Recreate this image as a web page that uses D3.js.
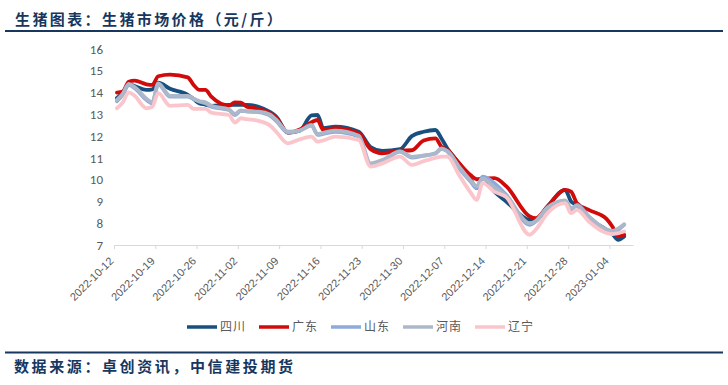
<!DOCTYPE html>
<html>
<head>
<meta charset="utf-8">
<script src="https://cdn.jsdelivr.net/npm/d3@7"></script>
<style>
  body { margin: 0; background: #fff; }
  svg { display: block; font-family: "Noto Sans CJK SC", "Noto Sans", sans-serif; }
</style>
</head>
<body>
<div id="chart"></div>
<script>
// Dates of the observations
var dates = ["2022-10-12","2022-10-13","2022-10-14","2022-10-15","2022-10-17","2022-10-18","2022-10-19","2022-10-21",
  "2022-10-24","2022-10-25","2022-10-26","2022-10-27","2022-10-28","2022-10-31","2022-11-01","2022-11-02","2022-11-03",
  "2022-11-05","2022-11-07","2022-11-08","2022-11-10","2022-11-12","2022-11-14","2022-11-15","2022-11-16","2022-11-18",
  "2022-11-22","2022-11-24","2022-11-26","2022-11-29","2022-12-01","2022-12-03","2022-12-05","2022-12-06","2022-12-07",
  "2022-12-09","2022-12-11","2022-12-12","2022-12-13","2022-12-15","2022-12-17","2022-12-21","2022-12-22","2022-12-24",
  "2022-12-27","2022-12-28","2022-12-29","2022-12-31","2023-01-03","2023-01-04","2023-01-05","2023-01-06"];

// Price series (yuan / jin)
var sichuan = [13.75,14.0,14.38,14.3,14.12,14.15,14.45,14.17,13.9,13.7,13.5,13.45,13.39,13.43,13.43,13.43,13.43,
  13.35,13.1,12.9,12.16,12.25,12.95,12.97,12.36,12.44,12.2,11.5,11.32,11.4,12.0,12.2,12.28,11.9,11.44,
  10.76,10.0,9.61,10.1,9.45,9.0,8.16,8.16,8.77,9.53,9.0,8.84,8.23,7.7,7.5,7.24,7.39];
var guangdong = [14.0,14.05,14.5,14.55,14.38,14.35,14.75,14.82,14.7,14.35,14.12,14.12,13.81,13.4,13.55,13.54,13.35,
  13.25,13.05,12.85,12.16,12.3,12.64,12.74,12.28,12.36,12.13,11.4,11.21,11.33,11.35,11.8,11.9,11.52,11.37,
  10.76,10.2,10.02,10.05,10.07,9.7,8.31,8.23,8.77,9.53,9.45,8.92,8.61,8.2,7.85,7.4,7.47];
var shandong = [13.6,13.9,14.35,14.2,13.66,13.51,14.38,13.81,13.81,13.7,13.58,13.51,13.35,13.2,12.97,13.16,13.14,
  13.1,12.93,12.7,12.16,12.25,12.51,12.06,12.1,12.2,11.98,10.68,10.83,11.29,11.01,11.1,11.21,11.44,11.3,
  10.53,9.9,9.61,10.14,9.84,9.3,7.93,8.08,8.69,9.0,8.61,8.84,8.31,7.7,7.62,7.7,7.93];
var henan = [13.66,13.95,14.4,14.25,13.72,13.55,14.42,13.85,13.85,13.72,13.6,13.55,13.4,13.22,13.02,13.18,13.14,
  13.12,12.98,12.75,12.2,12.25,12.48,12.1,12.15,12.25,12.02,10.75,10.9,11.3,11.05,11.1,11.2,11.4,11.32,
  10.6,9.95,9.7,10.05,9.65,9.25,8.0,8.1,8.72,9.05,8.7,8.8,8.28,7.72,7.65,7.75,7.95];
var liaoning = [13.28,13.55,14.01,13.85,13.28,13.35,13.97,13.39,13.43,13.25,13.25,13.25,13.08,12.97,12.62,12.82,12.78,
  12.7,12.48,12.2,11.67,11.85,11.98,11.75,11.8,11.98,11.83,10.6,10.75,11.06,10.68,10.85,11.0,11.06,11.06,
  10.22,9.4,9.07,9.84,9.45,9.2,7.47,7.7,8.46,8.92,8.46,8.61,8.08,7.55,7.5,7.55,7.62];

var seriesNames = ["四川", "广东", "山东", "河南", "辽宁"];
var seriesColors = ["#17507e", "#d10a0a", "#8eaadb", "#acb8c9", "#fac6cb"];
var yTicks = [7, 8, 9, 10, 11, 12, 13, 14, 15, 16];
var xTicks = ["2022-10-12","2022-10-19","2022-10-26","2022-11-02","2022-11-09","2022-11-16","2022-11-23",
  "2022-11-30","2022-12-07","2022-12-14","2022-12-21","2022-12-28","2023-01-04"];

var width = 728, height = 385;
var navy = "#17375e", textGrey = "#595959";

var svg = d3.select("#chart")
  .append("svg")
  .attr("width", width)
  .attr("height", height);

// Title and rules
svg.append("text")
  .attr("x", 15)
  .attr("y", 25)
  .attr("fill", navy)
  .style("font-size", "15px")
  .style("font-weight", 700)
  .style("letter-spacing", "2.4px")
  .text("生猪图表：生猪市场价格（元/斤）");
svg.append("line")
  .attr("x1", 5).attr("x2", 723)
  .attr("y1", 31).attr("y2", 31)
  .attr("stroke", navy).attr("stroke-width", 2);
svg.append("line")
  .attr("x1", 5).attr("x2", 723)
  .attr("y1", 352.5).attr("y2", 352.5)
  .attr("stroke", navy).attr("stroke-width", 2);
svg.append("text")
  .attr("x", 14)
  .attr("y", 372)
  .attr("fill", navy)
  .style("font-size", "15px")
  .style("font-weight", 700)
  .style("letter-spacing", "2.6px")
  .text("数据来源：卓创资讯，中信建投期货");

// Scales
var parse = d3.utcParse("%Y-%m-%d");
var x = d3.scaleUtc()
  .domain([parse("2022-10-12"), parse("2023-01-08")])
  .range([114, 633]);
var y = d3.scaleLinear()
  .domain([7, 16])
  .range([245, 49]);

// Y axis labels (no axis line)
var yAxis = svg.append("g")
  .attr("transform", "translate(114,0)")
  .call(d3.axisLeft(y).tickValues(yTicks).tickSize(0).tickPadding(11).tickFormat(d3.format("d")));
yAxis.select(".domain").remove();
yAxis.selectAll("text")
  .attr("fill", textGrey)
  .style("font-family", "Calibri, Carlito, 'Liberation Sans', sans-serif")
  .style("font-size", "13px");

// X axis
var xAxis = svg.append("g")
  .attr("transform", "translate(0,245)")
  .call(d3.axisBottom(x).tickValues(xTicks.map(parse)).tickSize(4).tickSizeOuter(0).tickFormat(d3.utcFormat("%Y-%m-%d")));
xAxis.select(".domain").attr("stroke", "#d9d9d9");
xAxis.selectAll(".tick line").attr("stroke", "#d9d9d9");
xAxis.selectAll("text")
  .attr("fill", textGrey)
  .style("font-family", "'Liberation Sans', sans-serif")
  .style("font-size", "11px")
  .attr("text-anchor", "end")
  .attr("dy", "0.35em")
  .attr("transform", "translate(-3,14) rotate(-45)")
  .attr("y", 0)
  .attr("x", 0);

// Lines (points sit in the middle of each day)
var line = d3.line()
  .x(function(d) { return x(d3.utcHour.offset(parse(d.date), 12)); })
  .y(function(d) { return y(d.value); })
  .curve(d3.curveMonotoneX);

var allSeries = [sichuan, guangdong, shandong, henan, liaoning];
allSeries.forEach(function(values, i) {
  var pts = dates.map(function(dt, j) { return { date: dt, value: values[j] }; });
  svg.append("path")
    .datum(pts)
    .attr("fill", "none")
    .attr("stroke", seriesColors[i])
    .attr("stroke-width", 3.8)
    .attr("stroke-linejoin", "round")
    .attr("stroke-linecap", "round")
    .attr("d", line);
});

// Legend
var legend = svg.append("g")
  .selectAll("g")
  .data(seriesNames)
  .enter()
  .append("g")
  .attr("transform", function(d, i) { return "translate(" + (187 + i * 72) + ",327)"; });
legend.append("line")
  .attr("x1", 0).attr("x2", 30)
  .attr("stroke", function(d, i) { return seriesColors[i]; })
  .attr("stroke-width", 3.5);
legend.append("text")
  .attr("x", 33)
  .attr("dy", "0.35em")
  .attr("fill", textGrey)
  .style("font-size", "12px")
  .style("letter-spacing", "1px")
  .text(function(d) { return d; });
</script>
</body>
</html>
